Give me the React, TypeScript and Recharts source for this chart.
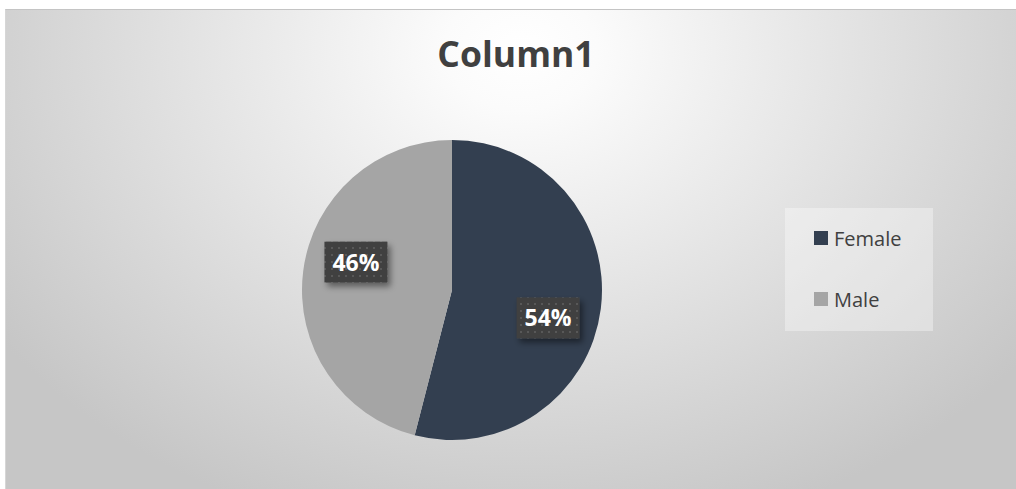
import { PieChart, Pie, Cell, Legend } from "recharts";

const categories = ["Female", "Male"];
const shares = [54, 46];
const COLORS = ["#333f50", "#a5a5a5"];

const data = categories.map((name, i) => ({ name, value: shares[i] }));

const RAD = Math.PI / 180;

function BoxLabel(props: any) {
  const { cx, cy, midAngle, outerRadius, percent } = props;
  const r = outerRadius * 0.667;
  const a = (midAngle - 9) * RAD;
  const x = cx + r * Math.cos(a);
  const y = cy - r * Math.sin(a);
  const w = 63;
  const h = 41;
  return (
    <g>
      <rect
        x={x - w / 2}
        y={y - h / 2}
        width={w}
        height={h}
        fill="url(#dots)"
        filter="url(#shadow)"
      />
      <text
        x={x}
        y={y + 8.5}
        textAnchor="middle"
        fill="#ffffff"
        fontFamily="'Open Sans', sans-serif"
        fontWeight={700}
        fontSize={23}
      >
        {`${Math.round(percent * 100)}%`}
      </text>
    </g>
  );
}

function LegendBox() {
  return (
    <div
      style={{
        width: 148,
        height: 123,
        background: "rgba(255,255,255,0.35)",
        boxSizing: "border-box",
        paddingLeft: 29,
        paddingTop: 16,
      }}
    >
      {data.map((d, i) => (
        <div
          key={d.name}
          style={{
            display: "flex",
            alignItems: "center",
            height: 28,
            marginBottom: i === 0 ? 33 : 0,
            fontFamily: "'Open Sans', sans-serif",
            fontSize: 20,
            color: "#404040",
          }}
        >
          <div style={{ width: 14, height: 14, background: COLORS[i], marginRight: 6 }} />
          <span>{d.name}</span>
        </div>
      ))}
    </div>
  );
}

export default function App() {
  return (
    <div style={{ position: "absolute", left: 0, top: 0, width: 1016, height: 489, overflow: "hidden", background: "#ffffff" }}>
      <div
        style={{
          position: "absolute",
          left: 5,
          top: 9,
          width: 1030,
          height: 500,
          borderTop: "1px solid #c4c4c4",
          borderLeft: "1px solid #d6d6d6",
          background:
            "radial-gradient(ellipse 62% 100% at 50% 8%, #ffffff 0%, #fbfbfb 12%, #e4e4e4 50%, #c6c6c6 100%)",
        }}
      />
      <div
        style={{
          position: "absolute",
          left: 0,
          top: 29,
          width: 1032,
          textAlign: "center",
          fontFamily: "'Open Sans', sans-serif",
          fontWeight: 700,
          fontSize: 35.5,
          lineHeight: "48px",
          color: "#404040",
        }}
      >
        Column1
      </div>
      <div style={{ position: "absolute", left: 0, top: 0 }}>
        <PieChart width={1016} height={489} margin={{ top: 0, right: 0, bottom: 0, left: 0 }}>
          <defs>
            <pattern id="dots" width="7" height="7" patternUnits="userSpaceOnUse">
              <rect width="7" height="7" fill="#404040" />
              <rect x="2" y="2" width="2" height="2" fill="#585858" />
            </pattern>
            <filter id="shadow" x="-20%" y="-20%" width="150%" height="160%">
              <feDropShadow dx="3" dy="4" stdDeviation="3" floodColor="#000" floodOpacity="0.45" />
            </filter>
          </defs>
          <Pie
            data={data}
            dataKey="value"
            nameKey="name"
            cx={452}
            cy={290}
            outerRadius={150}
            startAngle={90}
            endAngle={-270}
            stroke="none"
            label={BoxLabel}
            labelLine={false}
            isAnimationActive={false}
          >
            {data.map((d, i) => (
              <Cell key={d.name} fill={COLORS[i]} />
            ))}
          </Pie>
          <Legend
            layout="vertical"
            verticalAlign="middle"
            align="right"
            wrapperStyle={{ left: 785, top: 208, width: 148, right: "auto" }}
            content={<LegendBox />}
          />
        </PieChart>
      </div>
    </div>
  );
}
